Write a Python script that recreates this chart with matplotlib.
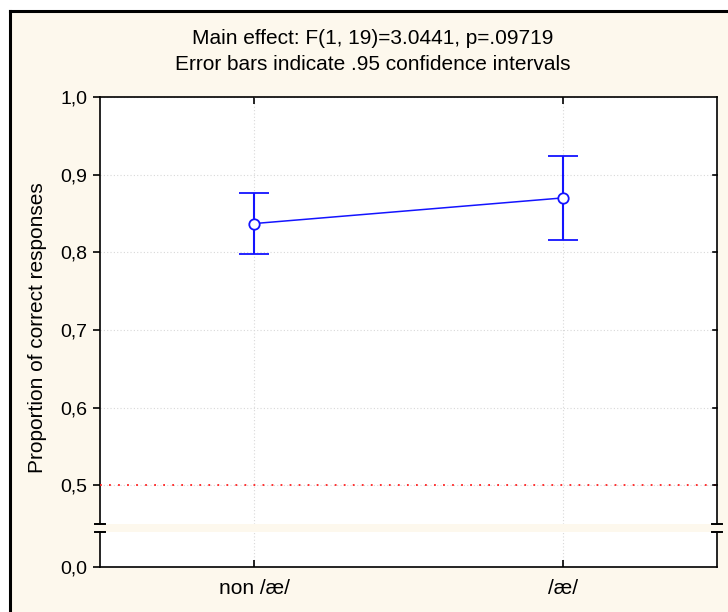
import matplotlib

matplotlib.use("Agg")
import matplotlib.pyplot as plt
from matplotlib.patches import Rectangle

# group means and .95 confidence limits
conditions = ["non /æ/", "/æ/"]
means = [0.837, 0.870]
ci_low = [0.798, 0.816]
ci_high = [0.876, 0.924]
upper_ticks = [0.5, 0.6, 0.7, 0.8, 0.9, 1.0]
upper_labels = ["0,5", "0,6", "0,7", "0,8", "0,9", "1,0"]
chance = 0.5

bg = "#fdf8ed"
blue = "#1414ff"
fs = 15
plt.rcParams["font.family"] = ["Liberation Sans", "DejaVu Sans"]

W, H = 728, 612
fig = plt.figure(figsize=(W / 100, H / 100), dpi=100)
fig.patch.set_facecolor("white")

# cream panel with black frame on top/left
fig.patches.append(
    Rectangle((10 / W, 0), 1, 1 - 11 / H, transform=fig.transFigure,
              facecolor=bg, edgecolor="none", zorder=-2)
)
fig.lines.append(plt.Line2D([10 / W, 10 / W], [0, 1 - 11 / H], transform=fig.transFigure,
                            color="black", lw=2.2))
fig.lines.append(plt.Line2D([10 / W, 1], [1 - 11 / H, 1 - 11 / H], transform=fig.transFigure,
                            color="black", lw=2.2))


def px_box(x0, y0, x1, y1):
    return [x0 / W, 1 - y1 / H, (x1 - x0) / W, (y1 - y0) / H]


ax = fig.add_axes(px_box(100, 97, 717, 524))
axb = fig.add_axes(px_box(100, 532, 717, 567), sharex=ax)

x = list(range(len(conditions)))
yerr = [[m - lo for m, lo in zip(means, ci_low)], [hi - m for m, hi in zip(means, ci_high)]]

ax.errorbar(x, means, yerr=yerr, color=blue, lw=1.1, elinewidth=1.5, capsize=11,
            capthick=1.5, marker="o", ms=7.5, mfc="white", mec=blue, mew=1.3, zorder=5)
ax.axhline(chance, color="#ff2020", ls=(0, (1, 4)), lw=1.3, zorder=3)

ax.set_xlim(-0.5, 1.5)
ax.set_ylim(0.45, 1.0)
axb.set_ylim(0.0, 0.045)

ax.set_yticks(upper_ticks)
ax.set_yticklabels(upper_labels)
axb.set_yticks([0.0])
axb.set_yticklabels(["0,0"])
axb.set_xticks(x)
axb.set_xticklabels(conditions)

for a in (ax, axb):
    a.set_facecolor("white")
    a.grid(True, color="#d8d8d8", ls=(0, (1, 2)), lw=0.8)
    a.set_axisbelow(True)
    for s in a.spines.values():
        s.set_linewidth(1.2)
    a.tick_params(axis="y", which="both", left=True, right=False, direction="out",
                  length=5, width=1.2, labelsize=14, pad=4)
    a.tick_params(axis="x", which="both", top=True, bottom=True, direction="in",
                  length=5, width=1.2, labelsize=fs, pad=9)

ax.spines["bottom"].set_visible(False)
axb.spines["top"].set_visible(False)
ax.tick_params(axis="x", bottom=False, labelbottom=False)
axb.tick_params(axis="x", top=False)

# right side ticks point inward, drawn as short segments
for yv in upper_ticks[:-1]:
    ax.plot([1.5 - 0.0135, 1.5], [yv, yv], color="black", lw=1.2, clip_on=False, zorder=6)

# axis break marks
for xp in (100, 717):
    for yp in (524, 532):
        fig.lines.append(plt.Line2D([(xp - 5) / W, (xp + 5) / W], [1 - yp / H, 1 - yp / H],
                                    transform=fig.transFigure, color="black", lw=1.4))

fig.text(38 / W, 1 - 328 / H, "Proportion of correct responses", rotation=90,
         ha="center", va="center", fontsize=fs)
fig.text(373 / W, 1 - 38 / H, "Main effect: F(1, 19)=3.0441, p=.09719",
         ha="center", va="center", fontsize=fs)
fig.text(373 / W, 1 - 65 / H, "Error bars indicate .95 confidence intervals",
         ha="center", va="center", fontsize=fs)

fig.savefig("out.png", dpi=100, facecolor=fig.get_facecolor())
